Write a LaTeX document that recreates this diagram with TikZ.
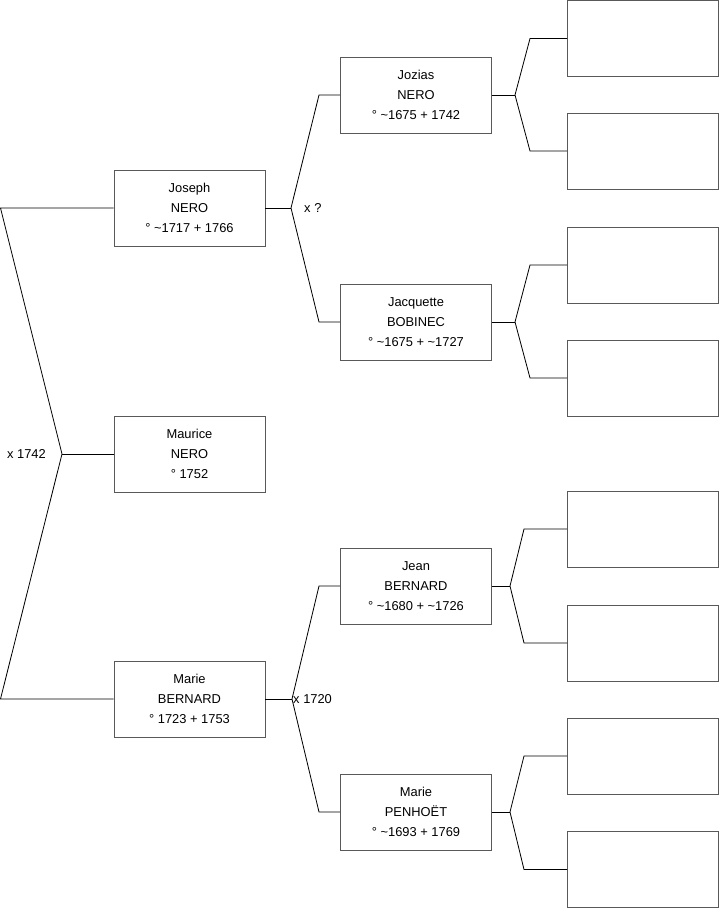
\documentclass[tikz,border=0pt]{standalone}
\usepackage{fontspec}
\setmainfont{Liberation Sans}
\usetikzlibrary{positioning}

\tikzset{
  person/.style={draw=black!65, line width=0.8pt, fill=white, inner sep=0pt,
    minimum width=4.53cm, minimum height=2.28cm, align=center,
    font=\fontsize{11}{17}\selectfont},
  branch/.style={draw=black, line width=0.7pt, line join=miter},
  union/.style={font=\fontsize{11}{12}\selectfont, inner sep=0pt}
}

\begin{document}
\begin{tikzpicture}[x=0.03cm, y=-0.03cm]
    \useasboundingbox (0,0) rectangle (719,908);

    % Generation 1
    \node[person] (joseph) at (189.5,208) {Joseph\\NERO\\° \textasciitilde1717 + 1766};
    \node[person] (maurice) at (189.5,454) {Maurice\\NERO\\° 1752};
    \node[person] (marie) at (189.5,699) {Marie\\BERNARD\\° 1723 + 1753};

    % Generation 2
    \node[person] (jozias) at (416,95) {Jozias\\NERO\\° \textasciitilde1675 + 1742};
    \node[person] (jacquette) at (416,322) {Jacquette\\BOBINEC\\° \textasciitilde1675 + \textasciitilde1727};
    \node[person] (jean) at (416,586) {Jean\\BERNARD\\° \textasciitilde1680 + \textasciitilde1726};
    \node[person] (mariep) at (416,812) {Marie\\PENHOËT\\° \textasciitilde1693 + 1769};

    % Generation 3 (empty)
    \foreach \name/\y in {g1/38.5, g2/151, g3/265, g4/378, g5/529, g6/643, g7/756, g8/869.5}
      \node[person] (\name) at (643,\y) {};

    % Maurice -> parents
    \coordinate (mtop) at (0.5,208);
    \coordinate (mv) at (62,454);
    \coordinate (mbot) at (0.5,699);
    \draw[branch] (joseph.west) -- (mtop) -- (mv) -- (mbot) -- (marie.west);
    \draw[branch] (mv) -- (maurice.west);
    \node[union, left=16 of mv] (u1742) {x 1742};

    % Joseph -> parents
    \coordinate (jv) at (291,208);
    \draw[branch] (joseph.east) -- (jv);
    \draw[branch] (jv) -- (319,95) -- (jozias.west);
    \draw[branch] (jv) -- (319,322) -- (jacquette.west);
    \node[union, right=13 of jv] (uq) {x ?};

    % Marie -> parents
    \coordinate (bv) at (292,699);
    \draw[branch] (marie.east) -- (bv);
    \draw[branch] (bv) -- (319,586) -- (jean.west);
    \draw[branch] (bv) -- (319,812) -- (mariep.west);
    \node[union, right=1 of bv] (u1720) {x 1720};

    % Generation 2 -> generation 3
    \foreach \from/\up/\down/\vx/\ex in {jozias/g1/g2/515/530, jacquette/g3/g4/515/530,
                                        jean/g5/g6/510/524, mariep/g7/g8/510/524} {
      \coordinate (\from v) at (\vx,0 |- \from.east);
      \draw[branch] (\from.east) -- (\from v);
      \draw[branch] (\from v) -- (\ex,0 |- \up.west) -- (\up.west);
      \draw[branch] (\from v) -- (\ex,0 |- \down.west) -- (\down.west);
    }
\end{tikzpicture}
\end{document}
